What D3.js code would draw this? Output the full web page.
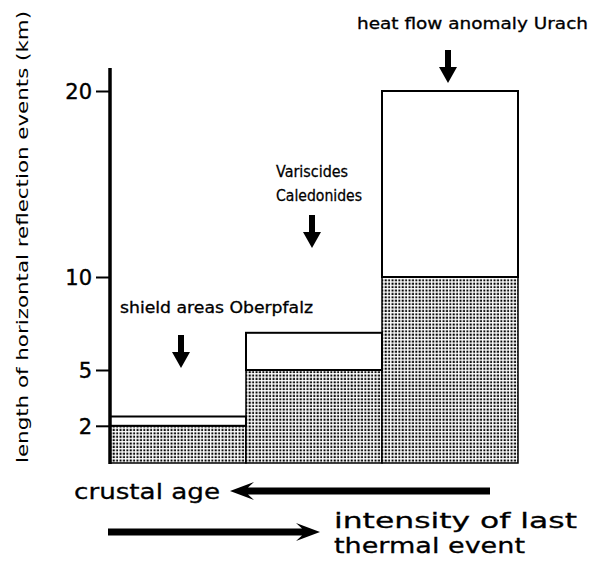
<!DOCTYPE html>
<html>
<head>
<meta charset="utf-8">
<script src="https://cdn.jsdelivr.net/npm/d3@7"></script>
<style>
  body { margin: 0; background: #fff; }
  text { font-family: "DejaVu Sans", sans-serif; fill: #000; }
</style>
</head>
<body>
<div id="chart"></div>
<script>
// values
var regions = ["shield areas Oberpfalz", "Variscides Caledonides", "heat flow anomaly Urach"];
var lowerValues = [2, 5, 10];     // dotted part
var upperValues = [2.5, 7, 20];   // top of open box
var yTicks = [2, 5, 10, 20];

var width = 602, height = 561;

var svg = d3.select("#chart").append("svg")
  .attr("width", width)
  .attr("height", height);

var x = d3.scaleBand().domain(regions).range([110, 518]).paddingInner(0).paddingOuter(0);
var y = d3.scaleLinear().domain([0, 20]).range([463, 91]);

// dot screen
var pat = svg.append("defs").append("pattern")
  .attr("id", "dots")
  .attr("patternUnits", "userSpaceOnUse")
  .attr("width", 3.4).attr("height", 3.4);
pat.append("rect").attr("width", 3.4).attr("height", 3.4).attr("fill", "#fff");
pat.append("rect").attr("x", 0.5).attr("y", 0.5).attr("width", 2).attr("height", 2).attr("fill", "#000");

var bars = regions.map(function(r, i) {
  return { name: r, lo: lowerValues[i], hi: upperValues[i] };
});

// dotted lower part
svg.selectAll("rect.low").data(bars).enter().append("rect")
  .attr("class", "low")
  .attr("x", function(d) { return x(d.name); })
  .attr("width", x.bandwidth())
  .attr("y", function(d) { return y(d.lo); })
  .attr("height", function(d) { return y(0) - y(d.lo); })
  .attr("fill", "url(#dots)")
  .attr("stroke", "#000")
  .attr("stroke-width", 1.5);

// open upper box
svg.selectAll("rect.high").data(bars).enter().append("rect")
  .attr("class", "high")
  .attr("x", function(d) { return x(d.name); })
  .attr("width", x.bandwidth())
  .attr("y", function(d) { return y(d.hi); })
  .attr("height", function(d) { return y(d.lo) - y(d.hi); })
  .attr("fill", "#fff")
  .attr("stroke", "#000")
  .attr("stroke-width", 2);

// y axis
var yAxis = svg.append("g")
  .attr("transform", "translate(110,0)")
  .call(d3.axisLeft(y).tickValues(yTicks).tickSize(14).tickPadding(4));
yAxis.select(".domain").remove();
yAxis.selectAll(".tick line").attr("stroke", "#000").attr("stroke-width", 2);
yAxis.selectAll(".tick text")
  .style("font-family", "'DejaVu Sans', sans-serif")
  .style("font-size", "21px")
  .attr("stroke", "#000").attr("stroke-width", 0.4)
  .attr("dy", "0.36em");

svg.append("line")
  .attr("x1", 110).attr("x2", 110)
  .attr("y1", 68).attr("y2", y(0) + 1)
  .attr("stroke", "#000").attr("stroke-width", 3.5);

// y label
svg.append("text")
  .attr("transform", "translate(28,237) rotate(-90)")
  .attr("text-anchor", "middle")
  .attr("textLength", 452)
  .attr("lengthAdjust", "spacingAndGlyphs")
  .style("font-size", "16px")
  .text("length of horizontal reflection events (km)");

// arrows
function downArrow(cx, tip) {
  var sw = 3, hw = 9, hl = 16, len = 33;
  var p = [[cx - sw, tip - len], [cx + sw, tip - len], [cx + sw, tip - hl],
           [cx + hw, tip - hl], [cx, tip], [cx - hw, tip - hl], [cx - sw, tip - hl]];
  svg.append("path").attr("d", "M" + p.join("L") + "Z").attr("fill", "#000");
}
function hArrow(x0, x1, yy, dir) {
  // dir = -1 : head on left at x0, dir = 1 : head on right at x1
  var sw = 3.5, hw = 9, hl = 24;
  var p;
  if (dir < 0) {
    p = [[x0, yy], [x0 + hl, yy - hw], [x0 + hl - 6, yy - sw], [x1, yy - sw],
         [x1, yy + sw], [x0 + hl - 6, yy + sw], [x0 + hl, yy + hw]];
  } else {
    p = [[x1, yy], [x1 - hl, yy - hw], [x1 - hl + 6, yy - sw], [x0, yy - sw],
         [x0, yy + sw], [x1 - hl + 6, yy + sw], [x1 - hl, yy + hw]];
  }
  svg.append("path").attr("d", "M" + p.join("L") + "Z").attr("fill", "#000");
}

var c = function(i) { return x(regions[i]) + x.bandwidth() / 2; };
downArrow(c(0) + 3, 368);
downArrow(c(1) - 2, 248);
downArrow(c(2) - 2, 83);

function label(txt, x0, yb, len, size) {
  svg.append("text").attr("x", x0).attr("y", yb)
    .attr("textLength", len).attr("lengthAdjust", "spacingAndGlyphs")
    .attr("stroke", "#000").attr("stroke-width", 0.3)
    .style("font-size", size + "px").text(txt);
}
label("heat flow anomaly Urach", 357, 29, 231, 15);
label("Variscides", 276, 177, 72, 16);
label("Caledonides", 276, 201, 86, 16);
label("shield areas Oberpfalz", 120, 313, 193, 15);

label("crustal age", 74, 499, 146, 22);
hArrow(230, 490, 491, -1);
hArrow(108, 320, 532, 1);
label("intensity of last", 334, 528, 243, 22);
label("thermal event", 334, 553, 191, 22);
</script>
</body>
</html>
